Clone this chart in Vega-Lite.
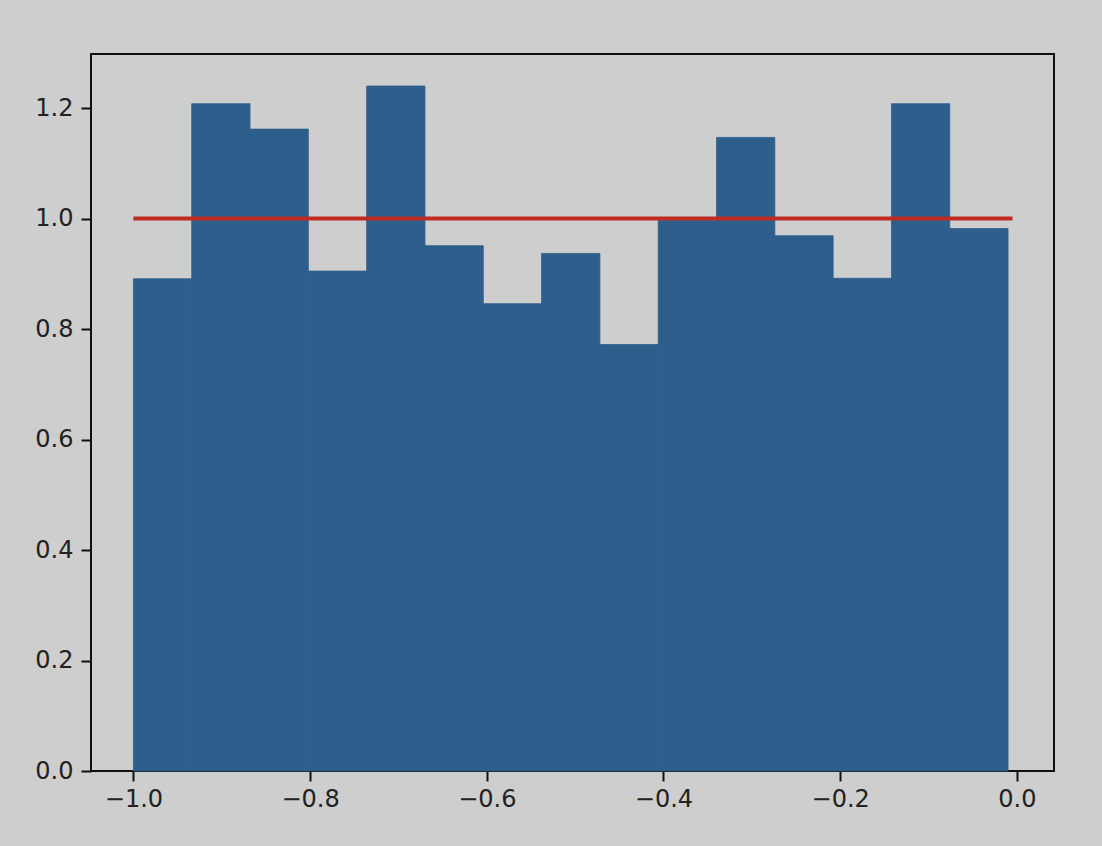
{
  "$schema": "https://vega.github.io/schema/vega-lite/v6.json",
  "width": 963,
  "height": 717,
  "autosize": {"type": "none"},
  "padding": {"left": 91, "top": 54, "right": 48, "bottom": 75},
  "background": "#cecece",
  "config": {
    "view": {"stroke": "#111111", "strokeWidth": 2, "fill": "#cecece"},
    "axis": {
      "domain": false,
      "grid": false,
      "tickColor": "#111111",
      "tickSize": 10,
      "tickWidth": 2,
      "labelFont": "DejaVu Sans",
      "labelFontSize": 24,
      "labelColor": "#222222",
      "title": null
    }
  },
  "datasets": {
    "bins": [
      {"start": -1.000, "end": -0.934, "density": 0.891},
      {"start": -0.934, "end": -0.868, "density": 1.208},
      {"start": -0.868, "end": -0.802, "density": 1.162},
      {"start": -0.802, "end": -0.736, "density": 0.905},
      {"start": -0.736, "end": -0.670, "density": 1.240},
      {"start": -0.670, "end": -0.604, "density": 0.951},
      {"start": -0.604, "end": -0.538, "density": 0.846},
      {"start": -0.538, "end": -0.472, "density": 0.937},
      {"start": -0.472, "end": -0.406, "density": 0.772},
      {"start": -0.406, "end": -0.340, "density": 0.997},
      {"start": -0.340, "end": -0.274, "density": 1.147},
      {"start": -0.274, "end": -0.208, "density": 0.969},
      {"start": -0.208, "end": -0.142, "density": 0.892},
      {"start": -0.142, "end": -0.076, "density": 1.208},
      {"start": -0.076, "end": -0.010, "density": 0.982}
    ],
    "ref": [
      {"x": -1.0, "x2": -0.005, "y": 1.0}
    ]
  },
  "layer": [
    {
      "data": {"name": "bins"},
      "mark": {"type": "rect", "fill": "#2d5e8c", "stroke": "#2d5e8c", "strokeWidth": 0.8},
      "encoding": {
        "x": {
          "field": "start",
          "type": "quantitative",
          "scale": {"domain": [-1.048, 0.042], "nice": false, "zero": false},
          "axis": {"values": [-1.0, -0.8, -0.6, -0.4, -0.2, 0.0], "format": ".1f", "labelPadding": 6}
        },
        "x2": {"field": "end"},
        "y": {
          "field": "density",
          "type": "quantitative",
          "scale": {"domain": [0, 1.298], "nice": false},
          "axis": {"values": [0, 0.2, 0.4, 0.6, 0.8, 1.0, 1.2], "format": ".1f", "labelPadding": 8}
        },
        "y2": {"datum": 0}
      }
    },
    {
      "data": {"name": "ref"},
      "mark": {"type": "rule", "color": "#bf2a22", "strokeWidth": 4},
      "encoding": {
        "x": {"field": "x", "type": "quantitative"},
        "x2": {"field": "x2"},
        "y": {"field": "y", "type": "quantitative"}
      }
    }
  ]
}
